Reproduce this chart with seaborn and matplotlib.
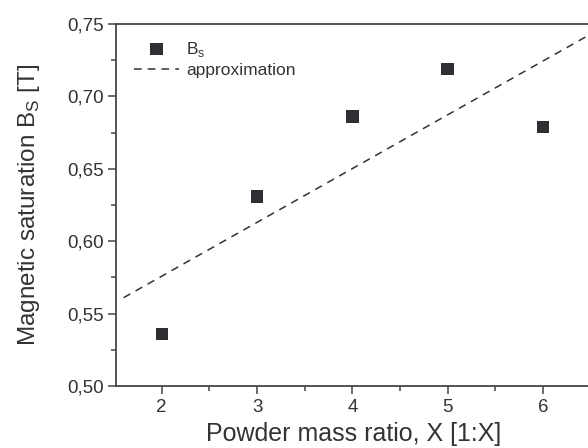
import numpy as np
import pandas as pd
import seaborn as sns
import matplotlib.pyplot as plt
from matplotlib.ticker import MultipleLocator

# data
ratio = [2, 3, 4, 5, 6]
bs = [0.536, 0.631, 0.686, 0.719, 0.679]
approx_x = [1.6, 6.5]
approx_y = [0.561, 0.743]

sns.set_style('ticks')
plt.rcParams['font.family'] = ['Liberation Sans', 'DejaVu Sans']

df_pts = pd.DataFrame({'ratio': ratio, 'bs': bs})
df_line = pd.DataFrame({'x': approx_x, 'y': approx_y})

fig = plt.figure(figsize=(5.88, 4.48), dpi=100)
ax = fig.add_axes([116 / 588, 62 / 448, 474.6 / 588, 362 / 448])

sns.scatterplot(data=df_pts, x='ratio', y='bs', marker='s', s=80,
                color='#2e2e33', edgecolor='none', ax=ax, label='B$_\\mathregular{s}$',
                zorder=3)
sns.lineplot(data=df_line, x='x', y='y', color='#333333', linewidth=1.1,
             linestyle=(0, (5, 4)), ax=ax, label='approximation')

ax.set_xlim(1.52, 6.5)
ax.set_ylim(0.5, 0.75)
ax.xaxis.set_major_locator(MultipleLocator(1))
ax.xaxis.set_minor_locator(MultipleLocator(0.5))
ax.yaxis.set_major_locator(MultipleLocator(0.05))
ax.yaxis.set_minor_locator(MultipleLocator(0.025))
ax.yaxis.set_major_formatter(lambda v, p: f'{v:.2f}'.replace('.', ','))

ax.tick_params(which='major', direction='out', length=6, width=1.1,
               color='#444444', labelsize=13.5, labelcolor='#333333', pad=3)
ax.tick_params(which='minor', direction='out', length=3.5, width=1.1, color='#444444')
for sp in ax.spines.values():
    sp.set_color('#444444')
    sp.set_linewidth(1.3)

ax.set_xlabel('Powder mass ratio, X [1:X]', fontsize=18, color='#333333', labelpad=5)
ax.set_ylabel('Magnetic saturation B$_\\mathregular{S}$ [T]', fontsize=17.5,
              color='#333333', labelpad=18)

ax.legend(loc='upper left', bbox_to_anchor=(0.005, 1.0), frameon=False,
          fontsize=12.5, handlelength=2.6, handletextpad=0.4, labelspacing=0.25,
          borderaxespad=0.5, labelcolor='#333333')

fig.savefig('out.png', dpi=100)
